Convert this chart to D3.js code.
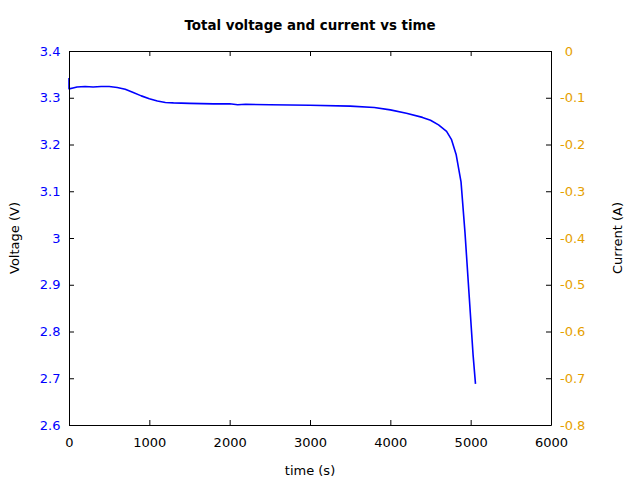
<!DOCTYPE html>
<html><head><meta charset="utf-8">
<script src="https://cdn.jsdelivr.net/npm/d3@7"></script>
<style>body{margin:0;background:#fff}svg{display:block;font-family:"DejaVu Sans",sans-serif}</style>
</head><body><svg id="c" width="640" height="480"></svg>
<script>
const title = "Total voltage and current vs time";
const xTicks = [0, 1000, 2000, 3000, 4000, 5000, 6000];
const vTicks = [2.6, 2.7, 2.8, 2.9, 3.0, 3.1, 3.2, 3.3, 3.4];
const iTicks = [-0.8, -0.7, -0.6, -0.5, -0.4, -0.3, -0.2, -0.1, 0];
const time = [0, 0, 50, 100, 200, 300, 400, 500, 600, 700, 800, 900, 1000, 1100, 1200, 1300, 1500, 1800, 2000, 2100, 2200, 2500, 3000, 3500, 3800, 4000, 4200, 4400, 4500, 4600, 4700, 4760, 4820, 4880, 4930, 4980, 5030, 5060];
const voltage = [3.342, 3.319, 3.321, 3.323, 3.324, 3.323, 3.324, 3.324, 3.322, 3.318, 3.311, 3.304, 3.298, 3.293, 3.290, 3.289, 3.288, 3.287, 3.287, 3.285, 3.286, 3.285, 3.284, 3.282, 3.279, 3.274, 3.267, 3.258, 3.252, 3.242, 3.228, 3.211, 3.178, 3.12, 3.01, 2.88, 2.75, 2.688];

const svg = d3.select("#c");
const L = 69, R = 551, T = 51, B = 425;
const x = d3.scaleLinear().domain([0, 6000]).range([L, R]);
const yV = d3.scaleLinear().domain([2.6, 3.4]).range([B, T]);
const yI = d3.scaleLinear().domain([-0.8, 0]).range([B, T]);
const blue = "#0000ff", orange = "#e69f00";
const fmt = d => String(+(+d).toFixed(2));
const FS = 13;

// data line
svg.append("path")
  .datum(time.map((t, i) => [t, voltage[i]]))
  .attr("fill", "none").attr("stroke", blue).attr("stroke-width", 1.6)
  .attr("stroke-linejoin", "round")
  .attr("d", d3.line().x(d => x(d[0])).y(d => yV(d[1])));

// axes with inward ticks
const ax = (gen, tx, ty) => {
  const g = svg.append("g").attr("transform", `translate(${tx},${ty})`).call(gen);
  g.selectAll("text").attr("font-size", FS).attr("font-family", "DejaVu Sans, sans-serif");
  g.selectAll("line").attr("stroke", "#000");
  g.select(".domain").attr("stroke", "#000");
  return g;
};
const gb = ax(d3.axisBottom(x).tickValues(xTicks).tickFormat(d3.format("d")).tickSizeInner(-5).tickSizeOuter(0).tickPadding(12.5), 0, B);
gb.selectAll("text").attr("fill", "#000");
const gt = ax(d3.axisTop(x).tickValues(xTicks).tickFormat("").tickSizeInner(-5).tickSizeOuter(0), 0, T);
const gl = ax(d3.axisLeft(yV).tickValues(vTicks).tickFormat(fmt).tickSizeInner(-5).tickSizeOuter(0).tickPadding(8.5), L, 0);
gl.selectAll("text").attr("fill", blue);
const gr = ax(d3.axisRight(yI).tickValues(iTicks).tickFormat(fmt).tickSizeInner(-5).tickSizeOuter(0).tickPadding(9), R, 0);
gr.selectAll("text").attr("fill", orange).attr("dx", d => d >= 0 ? 4.7 : 0);

// labels
svg.append("text").attr("x", 310).attr("y", 30).attr("text-anchor", "middle")
  .attr("font-size", 13.4).attr("font-weight", "bold").text(title);
svg.append("text").attr("x", 310).attr("y", 475).attr("text-anchor", "middle")
  .attr("font-size", FS).text("time (s)");
svg.append("text").attr("transform", "translate(19,238) rotate(-90)").attr("text-anchor", "middle")
  .attr("font-size", FS).text("Voltage (V)");
svg.append("text").attr("transform", "translate(622,238) rotate(-90)").attr("text-anchor", "middle")
  .attr("font-size", FS).text("Current (A)");
</script></body></html>
